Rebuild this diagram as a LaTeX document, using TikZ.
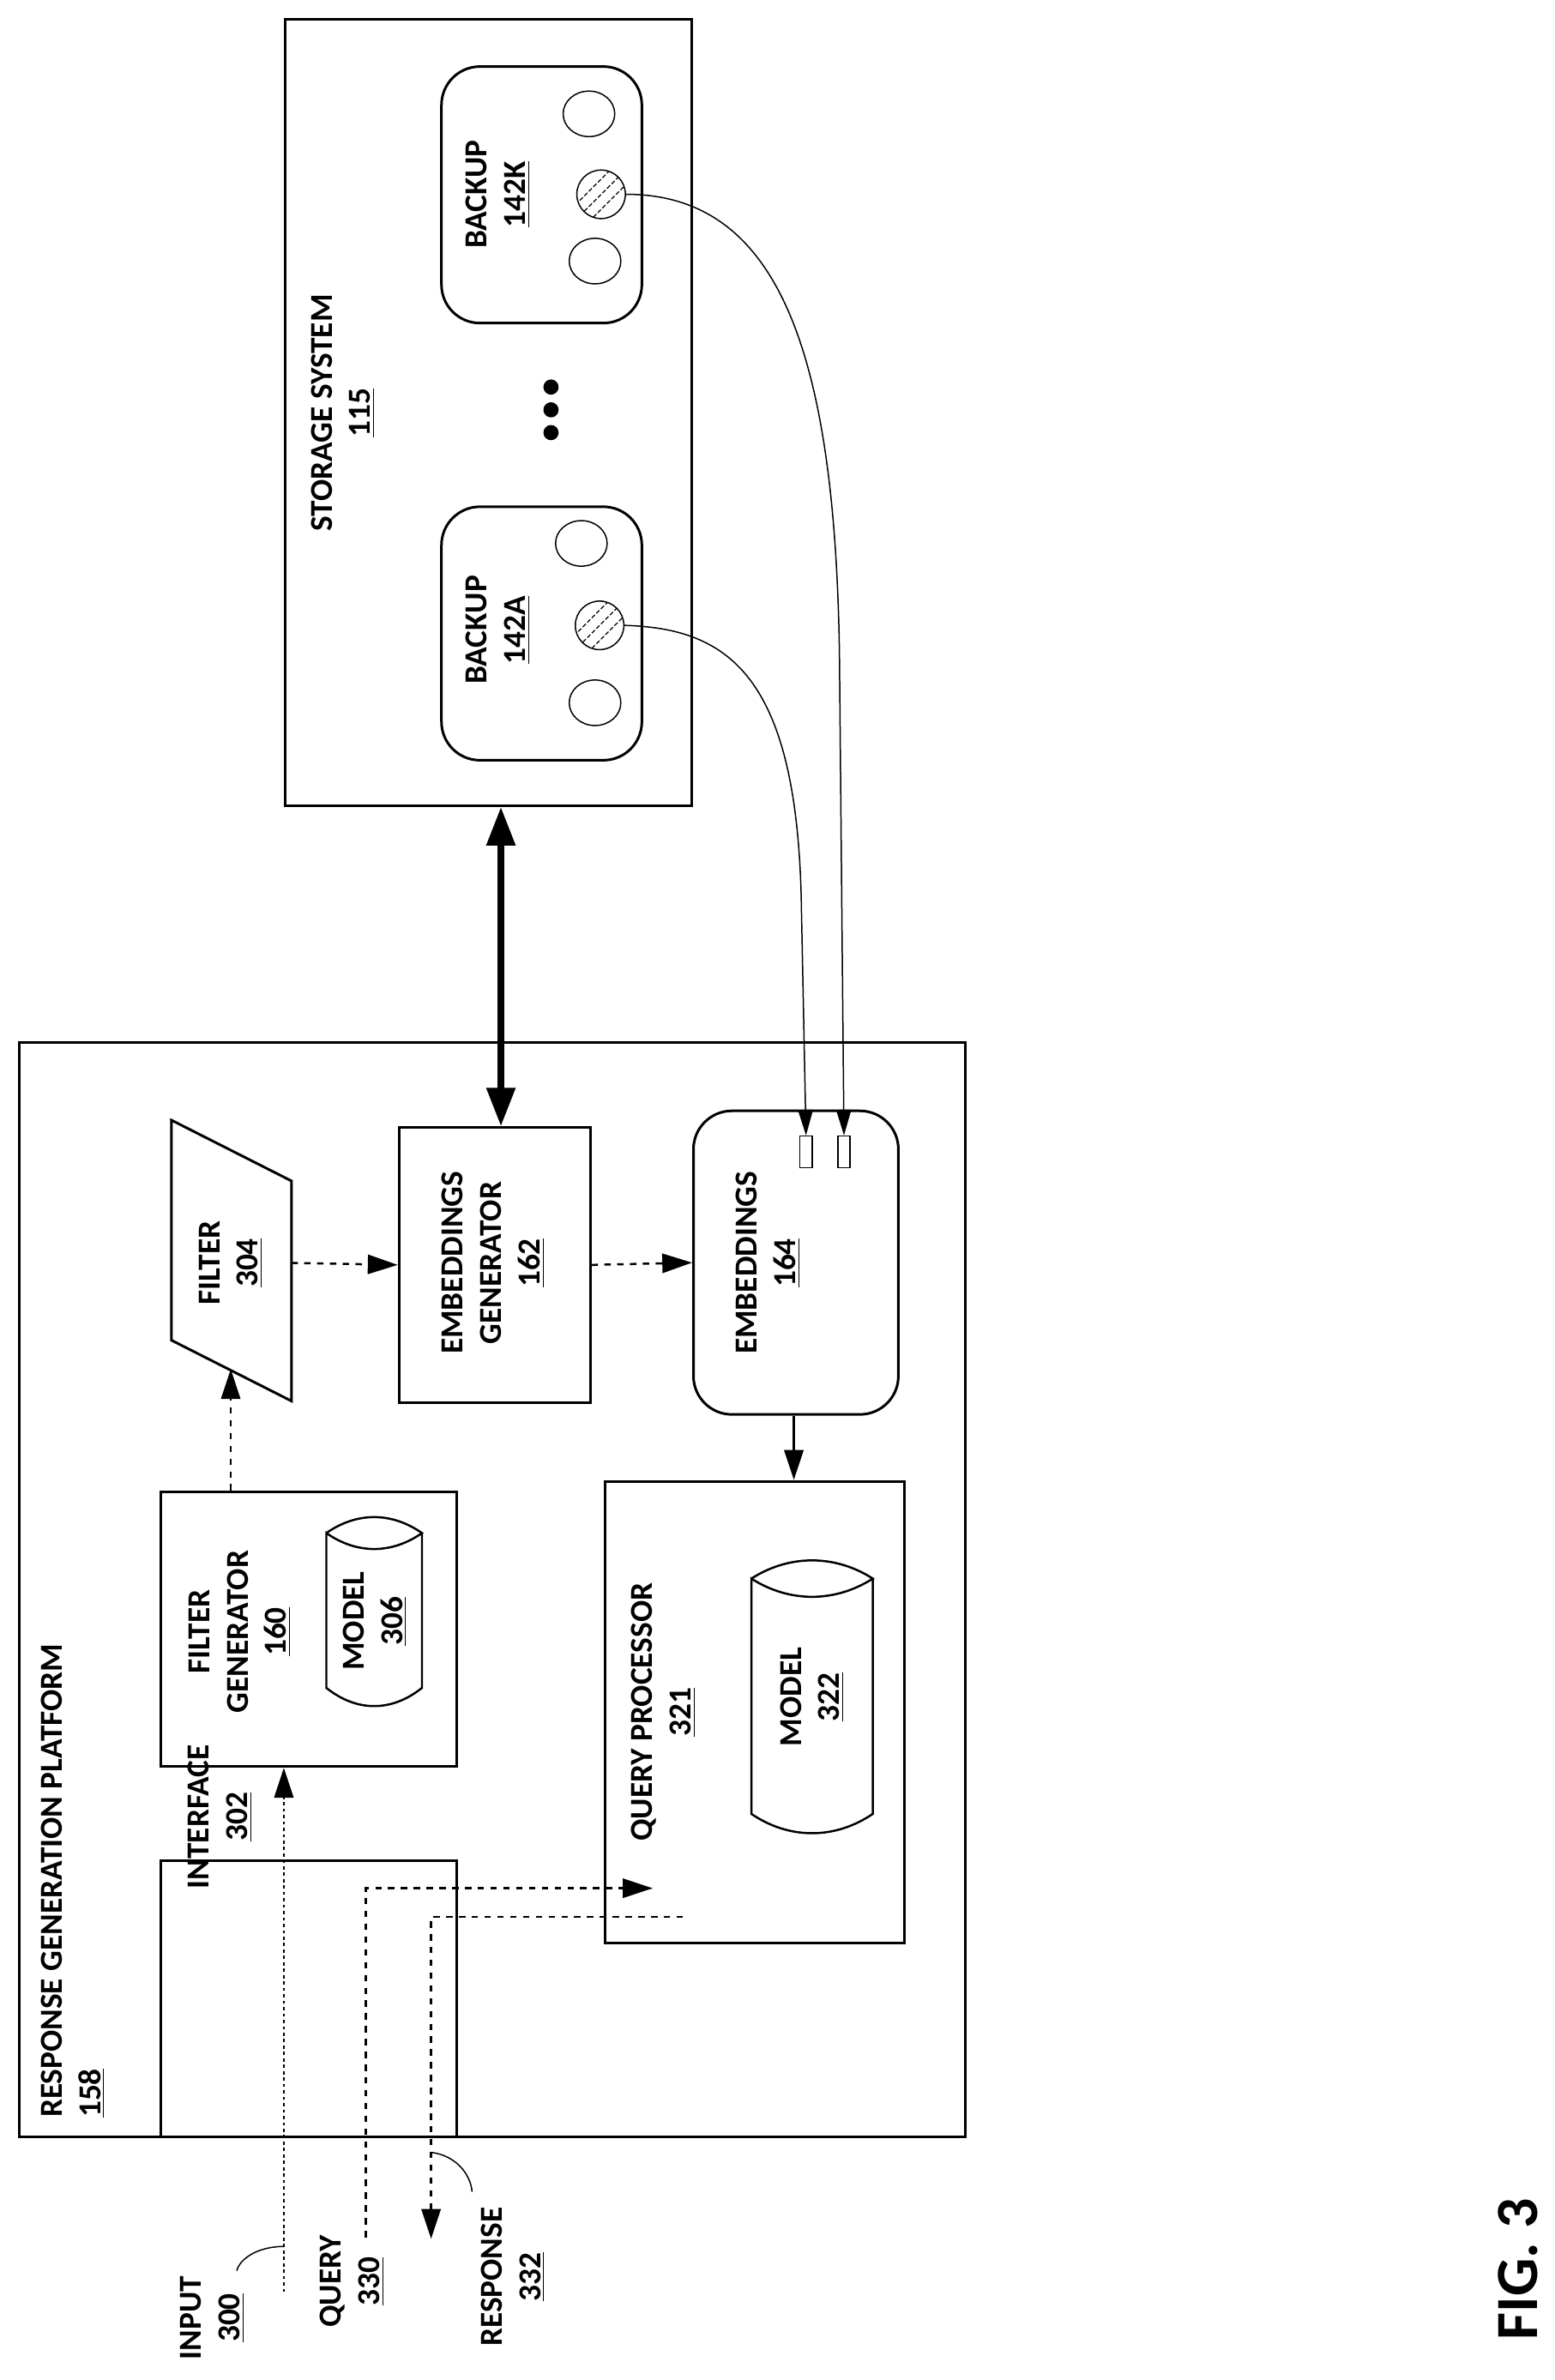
\documentclass[tikz,border=0pt]{standalone}
\usepackage{fontspec}
\setmainfont{Carlito}
\usetikzlibrary{arrows.meta,shapes.geometric}
\begin{document}
\begin{tikzpicture}[x=0.025cm,y=-0.025cm,
  box/.style={draw,line width=1.2pt},
  lbl/.style={font=\bfseries\fontsize{15}{18}\selectfont,rotate=90,align=center},
  tip/.style={-{Triangle[length=14pt,width=9pt]}},
  dsh/.style={dash pattern=on 3pt off 3pt,line width=1pt},
  thin/.style={line width=0.6pt}]
\useasboundingbox (0,0) rectangle (1024,1568);
% storage
\node[box,minimum width=268*0.025cm,minimum height=518*0.025cm,anchor=north west] (ss) at (187,12) {};
\node[lbl] (sst) at (226,272) {STORAGE SYSTEM\\\underline{115}};
\node[box,rounded corners=18pt,minimum width=132*0.025cm,minimum height=169*0.025cm,anchor=north west] (bk) at (290,43) {};
\node[box,rounded corners=18pt,minimum width=132*0.025cm,minimum height=167*0.025cm,anchor=north west] (ba) at (290,333) {};
\node[lbl] (bkt) at (328,128) {BACKUP\\\underline{142K}};
\node[lbl] (bat) at (328,415) {BACKUP\\\underline{142A}};
\foreach \n/\cx/\cy in {k1/388/75,k3/392/172,a1/383/358,a3/392/463}
  \node[draw,thin,ellipse,minimum width=34*0.025cm,minimum height=30*0.025cm,inner sep=0] (\n) at (\cx,\cy) {};
\foreach \n/\cx/\cy in {kh/396/128,ah/395/412}{
  \node[draw,thin,circle,minimum size=32*0.025cm,inner sep=0] (\n) at (\cx,\cy) {};
  \begin{scope}
   \clip (\cx,\cy) circle[radius=16];
   \foreach \d in {-10,0,10}
     \draw[line width=0.5pt,dash pattern=on 2pt off 1pt] (\cx-20,\cy+20+\d) -- (\cx+20,\cy-20+\d);
  \end{scope}}
\foreach \yy in {255,270,285} \fill (363,\yy) circle[radius=5];
% platform
\node[box,minimum width=623*0.025cm,minimum height=721*0.025cm,anchor=north west] (rp) at (12,686) {};
\node[lbl,anchor=north west,align=left] (rpt) at (22,1400) {RESPONSE GENERATION PLATFORM\\\underline{158}};
\node[box,minimum width=195*0.025cm,minimum height=182*0.025cm,anchor=north west] (if) at (105,1225) {};
\node[lbl] (ift) at (145,1197) {INTERFACE\\\underline{302}};
\node[box,minimum width=195*0.025cm,minimum height=181*0.025cm,anchor=north west] (fg) at (105,982) {};
\node[lbl] (fgt) at (158,1075) {FILTER\\GENERATOR\\\underline{160}};
% cylinders
\draw[box,line width=1pt] (215,1010) .. controls (235,996) and (258,996) .. (278,1010) .. controls (258,1024) and (235,1024) .. (215,1010) -- (215,1112) .. controls (235,1128) and (258,1128) .. (278,1112) -- (278,1010);
\node[lbl] (m306) at (247,1068) {MODEL\\\underline{306}};
\draw[box,line width=1pt] (495,1040) .. controls (520,1024) and (550,1024) .. (575,1040) .. controls (550,1056) and (520,1056) .. (495,1040) -- (495,1195) .. controls (520,1212) and (550,1212) .. (575,1195) -- (575,1040);
\node[lbl] (m322) at (535,1118) {MODEL\\\underline{322}};
% filter
\draw[box] (113,738) -- (192,778) -- (192,923) -- (113,883) -- cycle;
\node[lbl] (ft) at (152,832) {FILTER\\\underline{304}};
\coordinate (ftb) at (152,902);
\coordinate (ftr) at (192,832);
\node[box,minimum width=126*0.025cm,minimum height=181*0.025cm,anchor=north west] (eg) at (262,742) {};
\node[lbl] (egt) at (325,832) {EMBEDDINGS\\GENERATOR\\\underline{162}};
\node[box,rounded corners=18pt,minimum width=135*0.025cm,minimum height=200*0.025cm,anchor=north west] (em) at (456,731) {};
\node[lbl] (emt) at (506,832) {EMBEDDINGS\\\underline{164}};
\node[draw,thin,minimum width=8*0.025cm,minimum height=21*0.025cm,inner sep=0,anchor=north] (r1) at (531,748) {};
\node[draw,thin,minimum width=8*0.025cm,minimum height=21*0.025cm,inner sep=0,anchor=north] (r2) at (556,748) {};
\node[box,minimum width=197*0.025cm,minimum height=304*0.025cm,anchor=north west] (qp) at (398,975) {};
\node[lbl] (qpt) at (437,1128) {QUERY PROCESSOR\\\underline{321}};
% connectors
\draw[dsh,tip] (fg.north -| ftb) -- (ftb);
\draw[dsh,tip] (ftr) -- (eg.west);
\draw[dsh,tip] (eg.east) -- (em.west);
\draw[line width=1pt,tip] (em.south -| 523,0) -- (qp.north -| 523,0);
\draw[line width=3pt,{Triangle[length=18pt,width=13pt]}-{Triangle[length=18pt,width=13pt]}] (ss.south -| 330,0) -- (eg.north -| 330,0);
\draw[thin,-{Triangle[length=12pt,width=7pt]}] (ah.east) .. controls (480,414) and (526,445) .. (528,600) -- (r1.north);
\draw[thin,-{Triangle[length=12pt,width=7pt]}] (kh.east) .. controls (512,128) and (550,230) .. (553,430) -- (r2.north);
% io
\coordinate (inb) at (187,1510);
\coordinate (qb) at (241,1474);
\coordinate (qc) at (241,1244);
\coordinate (qe) at (430,1244);
\coordinate (rs) at (450,1263);
\coordinate (rc) at (284,1263);
\coordinate (re) at (284,1475);
\draw[dash pattern=on 1.5pt off 1.5pt,line width=1pt,tip] (inb) -- (fg.south -| inb);
\draw[dsh,tip] (qb) -- (qc) -- (qe);
\draw[dsh,tip] (rs) -- (rc) -- (re);
\draw[thin] (187,1480) .. controls (170,1480) and (158,1488) .. (156,1496);
\draw[thin] (284,1418) .. controls (300,1420) and (310,1432) .. (311,1444);
\node[lbl] (inl) at (140,1527) {INPUT\\\underline{300}};
\node[lbl] (qul) at (232,1503) {QUERY\\\underline{330}};
\node[lbl] (rel) at (338,1500) {RESPONSE\\\underline{332}};
\node[font=\bfseries\fontsize{28}{32}\selectfont,rotate=90] (fig) at (1000,1495) {FIG. 3};
\end{tikzpicture}
\end{document}
